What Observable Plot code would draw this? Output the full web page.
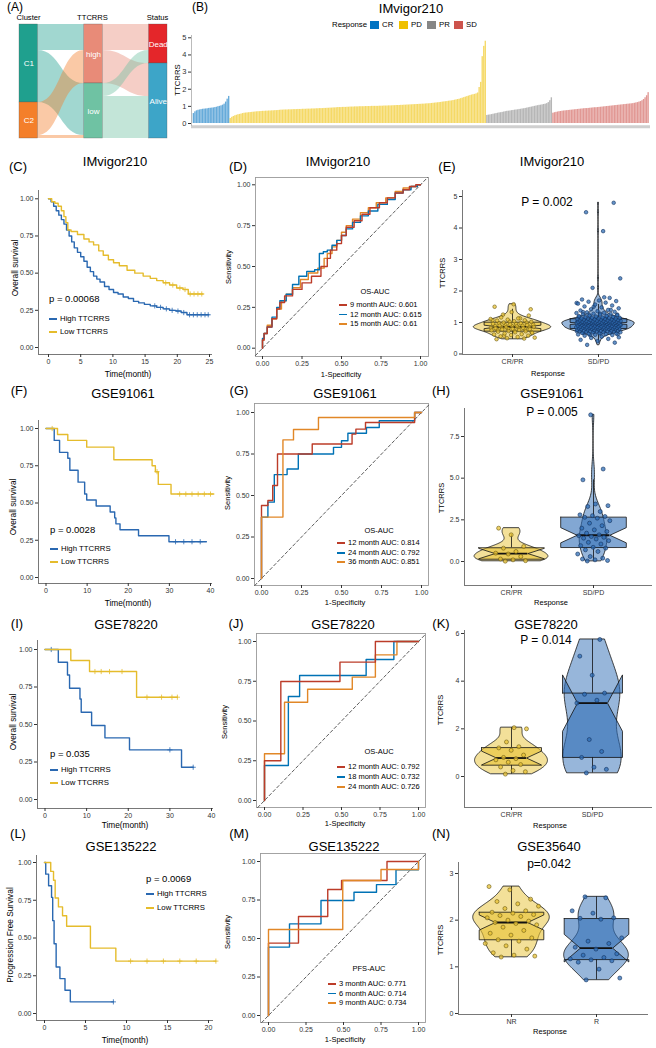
<!DOCTYPE html>
<html><head><meta charset="utf-8">
<script src="https://cdn.jsdelivr.net/npm/d3@7"></script>
<script src="https://cdn.jsdelivr.net/npm/@observablehq/plot@0.6"></script>
<style>
body{margin:0;background:#fff;font-family:"Liberation Sans",Arial,sans-serif;}
#page{position:relative;width:656px;height:1048px;overflow:hidden;background:#fff;}
#page svg{position:absolute;left:0;top:0;}
.t{position:absolute;white-space:nowrap;line-height:1;color:#000;}
.k{position:absolute;}
</style></head><body><div id="page"></div>
<script>
// ---------------- DATA ----------------
// (A) Sankey IMvigor210
const sankeyColumns = ["Cluster", "TTCRRS", "Status"];
const sankeyCol0 = ["C1", "C2"];
const sankeyCol1 = ["high", "low"];
const sankeyCol2 = ["Dead", "Alive"];
const sankeyLinkSource = ["C1", "C1", "C2", "C2", "high", "high", "low", "low"];
const sankeyLinkTarget = ["high", "low", "high", "low", "Dead", "Alive", "Dead", "Alive"];
const sankeyLinkValue = [79, 159, 101, 9, 79, 101, 40, 128];

// (B) IMvigor210 TTCRRS by response (sorted)
const responseGroups = ["CR", "PD", "PR", "SD"];
const CR_vals = [0.58,0.68,0.74,0.77,0.79,0.81,0.83,0.84,0.85,0.86,0.88,0.89,0.90,0.91,0.93,0.95,0.98,1.00,1.03,1.07,1.13,1.25,1.42,1.58];
const PD_vals = [0.29,0.36,0.41,0.45,0.48,0.51,0.53,0.55,0.58,0.60,
0.61,0.62,0.63,0.64,0.65,0.66,0.67,0.68,0.69,0.69,
0.70,0.71,0.71,0.72,0.72,0.73,0.73,0.74,0.74,0.75,
0.75,0.76,0.77,0.78,0.78,0.79,0.79,0.79,0.80,0.80,
0.80,0.81,0.81,0.81,0.82,0.82,0.82,0.83,0.83,0.83,
0.84,0.84,0.84,0.85,0.85,0.85,0.86,0.86,0.87,0.87,
0.87,0.88,0.88,0.89,0.89,0.90,0.90,0.91,0.91,0.92,
0.93,0.93,0.93,0.94,0.94,0.94,0.95,0.95,0.96,0.96,
0.96,0.97,0.97,0.97,0.98,0.98,0.98,0.98,0.99,0.99,
0.99,0.99,1.00,1.00,1.00,1.00,1.00,1.01,1.01,1.01,
1.02,1.02,1.02,1.03,1.03,1.03,1.04,1.04,1.05,1.05,
1.05,1.06,1.06,1.07,1.07,1.08,1.08,1.09,1.09,1.10,
1.10,1.11,1.11,1.12,1.12,1.13,1.13,1.14,1.15,1.15,
1.16,1.17,1.18,1.19,1.20,1.21,1.22,1.23,1.25,1.26,
1.27,1.28,1.30,1.31,1.32,1.34,1.36,1.38,1.40,1.42,
1.45,1.48,1.51,1.54,1.57,1.60,1.63,1.66,1.68,1.70,
1.73,1.78,2.10,2.40,3.90,4.50,4.80];
const PR_vals = [0.47,0.49,0.50,0.52,0.54,0.56,0.58,0.60,0.62,0.63,0.65,0.67,0.69,0.71,0.72,0.73,0.75,0.76,0.78,0.79,0.80,0.82,0.83,0.85,0.86,0.88,0.90,0.92,0.94,0.96,0.98,1.00,1.02,1.04,1.06,1.07,1.09,1.11,1.13,1.16,1.22,1.33,1.50];
const SD_vals = [0.60,0.63,0.65,0.67,0.69,0.70,0.72,0.73,0.74,0.75,0.76,0.77,0.78,0.79,0.80,0.81,0.82,0.83,0.84,0.85,0.86,0.87,0.87,0.88,0.89,0.90,0.91,0.92,0.92,0.93,0.94,0.95,0.96,0.97,0.98,0.99,1.00,1.01,1.02,1.03,1.04,1.05,1.06,1.07,1.08,1.09,1.10,1.11,1.12,1.13,1.14,1.15,1.16,1.18,1.20,1.22,1.25,1.28,1.33,1.40,1.50,1.62,1.80];
const yTicksB = [0, 1, 2, 3, 4, 5];

// (C) IMvigor210 KM
const C_high_t = [0,0.4,0.8,1.2,1.6,2.0,2.4,2.8,3.2,3.6,4.0,4.5,5.0,5.5,6.0,6.5,7.0,7.5,8.0,8.7,9.4,10.1,10.8,11.6,12.4,13.2,14.0,14.9,15.8,16.8,17.8,18.8,19.8,20.6,21.5,24.9];
const C_high_s = [1,0.98,0.95,0.92,0.89,0.86,0.83,0.79,0.75,0.71,0.67,0.64,0.61,0.58,0.54,0.51,0.48,0.46,0.44,0.41,0.39,0.37,0.36,0.34,0.33,0.31,0.30,0.29,0.28,0.27,0.26,0.25,0.245,0.235,0.22,0.22];
const C_high_cens = [16.5,17.4,18.3,19.2,20.1,21.0,21.9,22.5,23.1,23.7,24.3,24.8];
const C_low_t = [0,0.5,1.0,1.5,2.0,2.4,2.7,3.0,3.5,4.5,5.5,6.3,7.0,7.8,8.5,9.3,10.1,11.0,12.2,13.4,14.7,15.8,16.8,17.8,18.8,19.9,20.9,21.7,24.0];
const C_low_s = [1,0.98,0.97,0.95,0.92,0.88,0.84,0.79,0.78,0.76,0.73,0.71,0.69,0.65,0.62,0.59,0.57,0.55,0.52,0.50,0.48,0.465,0.45,0.435,0.42,0.40,0.39,0.36,0.36];
const C_low_cens = [18.2,19.3,20.4,21.2,22.0,22.6,23.2,23.8];

// (D) IMvigor210 ROC
const D_9_fpr = [0,0.01,0.03,0.06,0.09,0.11,0.14,0.19,0.25,0.31,0.37,0.41,0.43,0.47,0.50,0.53,0.58,0.63,0.68,0.74,0.79,0.84,0.89,0.93,0.97,1];
const D_9_tpr = [0,0.05,0.09,0.13,0.18,0.24,0.28,0.32,0.36,0.40,0.44,0.50,0.55,0.60,0.64,0.69,0.74,0.78,0.82,0.86,0.89,0.92,0.95,0.97,0.99,1];
const D_12_fpr = [0,0.01,0.03,0.06,0.09,0.12,0.15,0.19,0.24,0.29,0.35,0.39,0.41,0.44,0.47,0.50,0.53,0.57,0.62,0.67,0.72,0.78,0.84,0.89,0.94,0.98,1];
const D_12_tpr = [0,0.05,0.09,0.14,0.18,0.24,0.29,0.33,0.37,0.42,0.46,0.49,0.55,0.58,0.62,0.66,0.71,0.75,0.79,0.83,0.86,0.89,0.92,0.96,0.98,0.99,1];
const D_15_fpr = [0,0.01,0.03,0.06,0.09,0.11,0.15,0.19,0.23,0.28,0.33,0.36,0.385,0.41,0.44,0.47,0.50,0.53,0.57,0.62,0.67,0.73,0.79,0.84,0.89,0.94,0.98,1];
const D_15_tpr = [0,0.06,0.09,0.13,0.19,0.25,0.29,0.33,0.39,0.44,0.47,0.48,0.58,0.59,0.60,0.63,0.66,0.69,0.73,0.77,0.81,0.84,0.88,0.91,0.95,0.97,0.99,1];

// (E) uses B values: CR/PR vs SD/PD

// (F) GSE91061 KM
const F_high_t = [0,2.0,3.3,5.3,5.8,7.8,9.4,9.9,12.2,15.6,16.7,17.0,18.0,22.5,29.9,39.0];
const F_high_s = [1,0.92,0.84,0.80,0.72,0.64,0.56,0.52,0.48,0.44,0.40,0.36,0.32,0.28,0.24,0.24];
const F_high_cens = [31.5,33.5,35.5,37.5];
const F_low_t = [0,2.8,5.3,9.9,16.5,25.8,26.6,27.3,30.4,40.8];
const F_low_s = [1,0.96,0.92,0.875,0.79,0.75,0.71,0.625,0.56,0.56];
const F_low_cens = [1.5,27.0,32.5,34.0,35.5,37.0,38.5,40.0];

// (G) GSE91061 ROC (vertices, up then right)
const G_12_fpr = [0,0.04,0.07,0.10,0.317,0.566,0.59,0.65,0.957,1];
const G_12_tpr = [0,0.44,0.47,0.56,0.75,0.81,0.87,0.90,0.94,1];
const G_24_fpr = [0,0.04,0.08,0.16,0.23,0.45,0.50,0.54,0.656,0.736,0.957,1];
const G_24_tpr = [0,0.37,0.46,0.626,0.66,0.75,0.79,0.83,0.875,0.91,0.95,1];
const G_36_fpr = [0,0.134,0.20,0.356,0.957,1];
const G_36_tpr = [0,0.37,0.835,0.898,0.97,1];

// (H) GSE91061 TTCRRS
const H_CRPR = [0.02,0.05,0.1,0.15,0.3,0.45,0.5,0.6,0.8,0.9,1.6,2.0];
const H_SDPD = [0.03,0.06,0.1,0.15,0.2,0.3,0.45,0.6,0.7,0.8,0.85,0.95,1.05,1.15,1.25,1.35,1.4,1.45,1.5,1.55,1.6,1.7,1.8,1.9,2.0,2.15,2.3,2.45,2.6,2.65,2.7,2.75,2.8,3.0,3.3,3.35,3.45,4.9,5.55,8.8];

// (I) GSE78220 KM
const I_high_t = [0,3.2,5.4,5.9,8.4,8.7,11.2,14.4,20.3,32.8,35.6];
const I_high_s = [1,0.915,0.83,0.742,0.67,0.582,0.493,0.411,0.331,0.215,0.215];
const I_high_cens = [1.5,30.0,35.6];
const I_low_t = [0,6.2,10.7,22.0,31.8];
const I_low_s = [1,0.927,0.853,0.682,0.682];
const I_low_cens = [12.0,13.5,15.5,18.5,24.5,28.0,30.5,31.8];

// (J) GSE78220 ROC
const J_12_fpr = [0,0.106,0.49,0.72,1];
const J_12_tpr = [0,0.25,0.748,0.87,1];
const J_18_fpr = [0,0.155,0.228,0.66,0.84,1];
const J_18_tpr = [0,0.22,0.654,0.786,0.887,1];
const J_24_fpr = [0,0.13,0.28,0.57,0.72,0.86,1];
const J_24_tpr = [0,0.294,0.618,0.70,0.776,0.916,1];

// (K) GSE78220 TTCRRS
const K_CRPR = [0.1,0.2,0.25,0.4,0.5,0.6,0.7,0.75,0.8,0.9,1.1,1.2,1.25,1.45,2.0,2.05];
const K_SDPD = [0.15,0.3,0.39,0.8,1.05,1.55,3.08,3.2,3.45,3.5,4.25,5.05,5.75];

// (L) GSE135222 PFS
const L_high_t = [0,0.15,0.5,0.86,1.0,1.17,1.42,1.88,2.5,3.15,8.4];
const L_high_s = [1,0.923,0.846,0.769,0.615,0.462,0.308,0.231,0.154,0.077,0.077];
const L_high_cens = [8.4];
const L_low_t = [0,0.76,1.1,1.3,1.7,2.2,2.7,5.6,8.7,20.9];
const L_low_s = [1,0.941,0.882,0.765,0.706,0.647,0.578,0.433,0.347,0.347];
const L_low_cens = [10.5,12.5,14.5,16.5,18.5,20.9];

// (M) GSE135222 ROC
const M_3_fpr = [0,0.20,0.395,0.487,0.79,1];
const M_3_tpr = [0,0.47,0.643,0.818,0.877,1];
const M_6_fpr = [0,0.14,0.35,0.57,0.72,0.85,1,1];
const M_6_tpr = [0,0.444,0.595,0.747,0.80,0.85,0.946,1];
const M_9_fpr = [0,0.495,0.75,1.0,1];
const M_9_tpr = [0,0.558,0.877,0.948,1];

// (N) GSE35640 TTCRRS
const N_NR = [1.21,1.23,1.25,1.3,1.38,1.45,1.5,1.55,1.58,1.62,1.68,1.72,1.78,1.85,1.9,1.93,1.95,1.98,2.0,2.05,2.08,2.1,2.12,2.15,2.17,2.2,2.25,2.3,2.35,2.4,2.45,2.65,2.72];
const N_R = [0.72,0.76,0.95,1.1,1.13,1.15,1.17,1.2,1.25,1.28,1.38,1.42,1.5,1.55,1.62,2.02,2.04,2.05,2.15,2.2,2.48,2.5];

// ---------------- STYLE ----------------
const FONT = "Liberation Sans, Arial, sans-serif";
const JCO = {CR:"#0073C2", PD:"#EFC000", PR:"#868686", SD:"#CD534C"};
const SANKEY_COL = {C1:"#1FA08E", C2:"#F47F2A", high:"#E88B78", low:"#6FC2A3", Dead:"#E4262A", Alive:"#3DA5C8"};
const KM_HIGH = "#2A68B1", KM_LOW = "#E5BC2C";
const ROC_RED = "#BC3C29", ROC_BLUE = "#0072B5", ROC_ORANGE = "#E18727";
const VIO_Y = "#E8C234", VIO_B = "#2F6DB5";
const AXC = "#333";

const page = document.getElementById("page");
function txt(s, x, y, size, o = {}) {
  const d = document.createElement("div");
  d.className = "t"; d.textContent = s;
  d.style.left = x + "px"; d.style.top = y + "px"; d.style.fontSize = size + "px";
  const a = o.anchor || "middle";
  const tx = a === "start" ? "0" : a === "end" ? "-100%" : "-50%";
  d.style.transform = `translate(${tx},-50%)` + (o.rotate ? ` rotate(${o.rotate}deg)` : "");
  if (o.color) d.style.color = o.color;
  page.appendChild(d);
}
function hline(x1, x2, y, color, w = 1.5) {
  const d = document.createElement("div"); d.className = "k";
  d.style.left = x1 + "px"; d.style.top = (y - w / 2) + "px";
  d.style.width = (x2 - x1) + "px"; d.style.height = w + "px"; d.style.background = color;
  page.appendChild(d);
}
function box(x, y, w, h, color) {
  const d = document.createElement("div"); d.className = "k";
  d.style.left = x + "px"; d.style.top = y + "px"; d.style.width = w + "px"; d.style.height = h + "px"; d.style.background = color;
  page.appendChild(d);
}
function sc(d0, d1, p0, p1) { return {domain: [d0, d1], range: [p0, p1]}; }
function inv(s, px) { return s.domain[0] + (px - s.range[0]) * (s.domain[1] - s.domain[0]) / (s.range[1] - s.range[0]); }
function addPlot(frame, opts) {
  const [l, t, r, b] = frame;
  const svg = Plot.plot({
    width: 656, height: 1048,
    marginLeft: l, marginTop: t, marginRight: 656 - r, marginBottom: 1048 - b,
    style: {background: "transparent", fontFamily: FONT, overflow: "visible"},
    ...opts
  });
  page.appendChild(svg);
}
const axOpt = {tickSize: 3, tickPadding: 2, fontSize: 7, label: null, color: AXC};
function stepAt(ts, ss, t) { let v = ss[0]; for (let i = 0; i < ts.length; i++) if (ts[i] <= t) v = ss[i]; return v; }

// ---------------- (A) Sankey ----------------
(function () {
  const cols = [sankeyCol0, sankeyCol1, sankeyCol2];
  const colOf = {}, idxOf = {};
  cols.forEach((c, ci) => c.forEach((n, ni) => { colOf[n] = ci; idxOf[n] = ni; }));
  const links = sankeyLinkSource.map((s, i) => ({s, t: sankeyLinkTarget[i], v: sankeyLinkValue[i], id: i}));
  const nodeVal = {};
  cols.flat().forEach(n => {
    const out = d3.sum(links.filter(l => l.s === n), l => l.v);
    const inn = d3.sum(links.filter(l => l.t === n), l => l.v);
    nodeVal[n] = Math.max(out, inn);
  });
  const total = d3.sum(sankeyCol0, n => nodeVal[n]);
  const nodeY0 = {};
  cols.forEach(c => { let y = 0; c.forEach(n => { nodeY0[n] = y; y += nodeVal[n]; }); });
  const outOff = {...nodeY0}, inOff = {...nodeY0};
  links.slice().sort((a, b) => colOf[a.s] - colOf[b.s] || idxOf[a.s] - idxOf[b.s] || idxOf[a.t] - idxOf[b.t])
    .forEach(l => { l.sy = outOff[l.s]; outOff[l.s] += l.v; });
  links.slice().sort((a, b) => colOf[a.t] - colOf[b.t] || idxOf[a.t] - idxOf[b.t] || idxOf[a.s] - idxOf[b.s])
    .forEach(l => { l.ty = inOff[l.t]; inOff[l.t] += l.v; });
  const NW = 0.2857;
  const nodes = cols.flat().map(n => ({n, c: colOf[n], y0: nodeY0[n], y1: nodeY0[n] + nodeVal[n], color: SANKEY_COL[n]}));
  const marks = [];
  links.forEach(l => {
    const pts = [{x: colOf[l.s] + NW, y1: l.sy, y2: l.sy + l.v}, {x: colOf[l.t], y1: l.ty, y2: l.ty + l.v}];
    marks.push(Plot.areaY(pts, {x: "x", y1: "y1", y2: "y2", curve: "bump-x", fill: SANKEY_COL[l.s], fillOpacity: 0.42}));
  });
  marks.push(Plot.rect(nodes, {x1: "c", x2: d => d.c + NW, y1: "y0", y2: "y1", fill: "color", stroke: "#555", strokeWidth: 0.5, strokeOpacity: 0.6}));
  marks.push(Plot.text(nodes, {x: d => d.c + NW / 2, y: d => (d.y0 + d.y1) / 2, text: "n", fill: "white", fontSize: 8}));
  addPlot([19, 24, 167, 138], {
    x: {domain: [0, 2], range: [19, 148.5], axis: null},
    y: {domain: [0, total], range: [24, 138], axis: null},
    color: {type: "identity"},
    marks
  });
  txt("(A)", 15, 6.5, 12);
  [28.5, 92.5, 157.5].forEach((x, i) => txt(sankeyColumns[i], x, 18, 7.6));
})();

// ---------------- (B) Bars ----------------
(function () {
  const groups = {CR: CR_vals, PD: PD_vals, PR: PR_vals, SD: SD_vals};
  const bars = [];
  responseGroups.forEach(g => groups[g].forEach(v => bars.push({i: bars.length, v, g})));
  const ys = sc(0, 5, 123, 37.3);
  addPlot([191, 35, 650, 128], {
    x: {type: "band", domain: bars.map(d => d.i), range: [192.5, 649], padding: 0.12, axis: null},
    y: ys,
    color: {type: "identity"},
    marks: [
      Plot.ruleY([inv(ys, 126.3)], {stroke: "#cfcfcf", strokeWidth: 3}),
      Plot.barY(bars, {x: "i", y: "v", fill: d => JCO[d.g], fillOpacity: 0.6}),
      Plot.axisY({...axOpt, ticks: yTicksB, tickFormat: d3.format("d"), fontSize: 7.5})
    ]
  });
  box(190.5, 35, 0.8, 91, "#bbb");
  txt("(B)", 200, 7, 12);
  txt("IMvigor210", 411, 8, 13);
  txt("TTCRRS", 178, 80, 7.8, {rotate: -90});
  txt("Response", 332, 25, 7.8, {anchor: "start"});
  const sw = [370, 399, 427, 454];
  responseGroups.forEach((g, i) => { box(sw[i], 21, 9, 8, JCO[g]); txt(g, sw[i] + 12, 25, 7.8, {anchor: "start"}); });
})();

// ---------------- KM panels ----------------
function kmPanel(frame, xs, ys, xticks, curves) {
  const [l, t, r, b] = frame;
  const marks = [
    Plot.ruleX([inv(xs, l)], {stroke: "#555", strokeWidth: 0.8}),
    Plot.ruleY([inv(ys, b)], {stroke: "#555", strokeWidth: 0.8}),
    Plot.axisX({...axOpt, ticks: xticks}),
    Plot.axisY({...axOpt, ticks: [0, 0.25, 0.5, 0.75, 1], tickFormat: d3.format(".2f")})
  ];
  curves.forEach(c => {
    const pts = c.t.map((tt, i) => ({t: tt, s: c.s[i]}));
    marks.push(Plot.line(pts, {x: "t", y: "s", curve: "step-after", stroke: c.color, strokeWidth: 1.4}));
    marks.push(Plot.dot(c.cens.map(ct => ({t: ct, s: stepAt(c.t, c.s, ct)})), {x: "t", y: "s", symbol: "plus", r: 1.8, stroke: c.color, strokeWidth: 0.8}));
  });
  addPlot(frame, {x: xs, y: ys, marks});
}
function kmLegend(x, yHigh, yLow) {
  hline(x, x + 8, yHigh, KM_HIGH); txt("High TTCRRS", x + 11, yHigh, 7.8, {anchor: "start"});
  hline(x, x + 8, yLow, KM_LOW); txt("Low TTCRRS", x + 11, yLow, 7.8, {anchor: "start"});
}
// C
kmPanel([38, 190, 212, 354], sc(0, 25, 48, 209), sc(0, 1, 347, 198.3), [0, 5, 10, 15, 20, 25], [
  {t: C_high_t, s: C_high_s, cens: C_high_cens, color: KM_HIGH},
  {t: C_low_t, s: C_low_s, cens: C_low_cens, color: KM_LOW}
]);
txt("(C)", 18, 166, 13); txt("IMvigor210", 115, 161, 13);
txt("Overall survival", 15, 268, 8.3, {rotate: -90}); txt("Time(month)", 128, 374, 8.3);
txt("p = 0.00068", 49, 299, 9.5, {anchor: "start"}); kmLegend(49, 319, 332);
// F
kmPanel([38, 420, 212, 583], sc(0, 40, 45.5, 210), sc(0, 1, 577, 428), [0, 10, 20, 30, 40], [
  {t: F_high_t, s: F_high_s, cens: F_high_cens, color: KM_HIGH},
  {t: F_low_t, s: F_low_s, cens: F_low_cens, color: KM_LOW}
]);
txt("(F)", 19, 390, 13); txt("GSE91061", 123, 393, 13);
txt("Overall survival", 13, 507, 8.3, {rotate: -90}); txt("Time(month)", 128, 603, 8.3);
txt("p = 0.0028", 50, 530, 9.5, {anchor: "start"}); kmLegend(50, 549, 562);
// I
kmPanel([37, 640, 213, 808], sc(0, 40, 44.5, 211), sc(0, 1, 799, 649), [0, 10, 20, 30, 40], [
  {t: I_high_t, s: I_high_s, cens: I_high_cens, color: KM_HIGH},
  {t: I_low_t, s: I_low_s, cens: I_low_cens, color: KM_LOW}
]);
txt("(I)", 17, 623, 13); txt("GSE78220", 126, 624, 13);
txt("Overall survival", 13, 722, 8.3, {rotate: -90}); txt("Time(month)", 125, 825, 8.3);
txt("p = 0.035", 50, 754, 9.5, {anchor: "start"}); kmLegend(50, 770, 783);
// L
kmPanel([36, 855, 213, 1020], sc(0, 20, 44, 208), sc(0, 1, 1013, 862), [0, 5, 10, 15, 20], [
  {t: L_high_t, s: L_high_s, cens: L_high_cens, color: KM_HIGH},
  {t: L_low_t, s: L_low_s, cens: L_low_cens, color: KM_LOW}
]);
txt("(L)", 18, 833, 13); txt("GSE135222", 121, 846, 13);
txt("Progression Free Survival", 10, 935, 8.3, {rotate: -90}); txt("Time(month)", 125, 1040, 8.3);
txt("p = 0.0069", 146, 879, 9.5, {anchor: "start"}); kmLegend(146, 894, 908);

// ---------------- ROC panels ----------------
function rocPanel(frame, xs, ys, curves) {
  const [l, t, r, b] = frame;
  const lo = Math.max(inv(xs, l), inv(ys, b)), hi = Math.min(inv(xs, r), inv(ys, t));
  const marks = [
    Plot.frame({stroke: "#9a9a9a", strokeWidth: 0.9}),
    Plot.axisX({...axOpt, ticks: [0, 0.25, 0.5, 0.75, 1], tickFormat: d3.format(".2f")}),
    Plot.axisY({...axOpt, ticks: [0, 0.25, 0.5, 0.75, 1], tickFormat: d3.format(".2f")}),
    Plot.line([[lo, lo], [hi, hi]], {x: d => d[0], y: d => d[1], stroke: "#333", strokeWidth: 0.8, strokeDasharray: "3,2.5"})
  ];
  curves.forEach(c => {
    const pts = c.f.map((f, i) => ({f, s: c.s[i]}));
    marks.push(Plot.line(pts, {x: "f", y: "s", curve: "step-before", stroke: c.color, strokeWidth: 1.4}));
  });
  addPlot(frame, {x: xs, y: ys, marks});
}
function rocLegend(title, cx, ty, rows, keyX, labels) {
  txt(title, cx, ty, 7.5);
  const colors = [ROC_RED, ROC_BLUE, ROC_ORANGE];
  labels.forEach((lab, i) => { hline(keyX, keyX + 8, rows[i], colors[i]); txt(lab, keyX + 11, rows[i], 7.5, {anchor: "start"}); });
}
// D
rocPanel([255, 177, 428, 356], sc(0, 1, 262, 420), sc(0, 1, 347.7, 184.3), [
  {f: D_12_fpr, s: D_12_tpr, color: ROC_ORANGE},
  {f: D_15_fpr, s: D_15_tpr, color: ROC_BLUE},
  {f: D_9_fpr, s: D_9_tpr, color: ROC_RED}
]);
txt("(D)", 238, 166, 13); txt("IMvigor210", 338, 161, 13);
txt("Sensitivity", 229, 267, 7.5, {rotate: -90}); txt("1-Specificity", 341, 375, 7.5);
rocLegend("OS-AUC", 375, 292, [305, 314.5, 324], 339, ["9 month AUC: 0.601", "12 month AUC: 0.615", "15 month AUC: 0.61"]);
// G
rocPanel([254, 403, 428, 585], sc(0, 1, 261, 421), sc(0, 1, 578, 412), [
  {f: G_24_fpr, s: G_24_tpr, color: ROC_BLUE},
  {f: G_12_fpr, s: G_12_tpr, color: ROC_RED},
  {f: G_36_fpr, s: G_36_tpr, color: ROC_ORANGE}
]);
txt("(G)", 239, 390, 13); txt("GSE91061", 345, 393, 13);
txt("Sensitivity", 228, 493, 7.5, {rotate: -90}); txt("1-Specificity", 345, 603, 7.5);
rocLegend("OS-AUC", 379, 531, [543, 553, 562], 337, ["12 month AUC: 0.814", "24 month AUC: 0.792", "36 month AUC: 0.851"]);
// J
rocPanel([256, 633, 425, 807], sc(0, 1, 264, 418), sc(0, 1, 800, 641), [
  {f: J_18_fpr, s: J_18_tpr, color: ROC_BLUE},
  {f: J_24_fpr, s: J_24_tpr, color: ROC_ORANGE},
  {f: J_12_fpr, s: J_12_tpr, color: ROC_RED}
]);
txt("(J)", 236, 623, 13); txt("GSE78220", 343, 624, 13);
txt("Sensitivity", 225, 722, 7.5, {rotate: -90}); txt("1-Specificity", 345, 824, 7.5);
rocLegend("OS-AUC", 379, 752, [767, 777, 787], 337, ["12 month AUC: 0.792", "18 month AUC: 0.732", "24 month AUC: 0.726"]);
// M
rocPanel([260, 853, 425, 1022], sc(0, 1, 268, 418), sc(0, 1, 1015, 861), [
  {f: M_6_fpr, s: M_6_tpr, color: ROC_BLUE},
  {f: M_3_fpr, s: M_3_tpr, color: ROC_RED},
  {f: M_9_fpr, s: M_9_tpr, color: ROC_ORANGE}
]);
txt("(M)", 239, 833, 13); txt("GSE135222", 344, 846, 13);
txt("Sensitivity", 228, 932, 7.5, {rotate: -90}); txt("1-Specificity", 345, 1040, 7.5);
rocLegend("PFS-AUC", 369, 969, [984, 993.5, 1003], 328, ["3 month AUC: 0.771", "6 month AUC: 0.714", "9 month AUC: 0.734"]);

// ---------------- Violin panels ----------------
function violinShape(vals, n = 90) {
  const v = vals.slice().sort(d3.ascending);
  const sd = d3.deviation(v), iqr = d3.quantile(v, 0.75) - d3.quantile(v, 0.25);
  let lo = Math.min(sd, iqr / 1.34); if (!(lo > 0)) lo = sd || 1;
  const bw = 0.9 * lo * Math.pow(v.length, -0.2);
  const mn = v[0], mx = v[v.length - 1];
  return d3.range(n + 1).map(k => {
    const y = mn + (mx - mn) * k / n;
    const d = d3.mean(v, x => Math.exp(-0.5 * ((y - x) / bw) ** 2)) / (bw * Math.sqrt(2 * Math.PI));
    return {y, d};
  });
}
function boxStats(vals, pos, hw) {
  const v = vals.slice().sort(d3.ascending);
  const q1 = d3.quantile(v, 0.25), med = d3.quantile(v, 0.5), q3 = d3.quantile(v, 0.75), iqr = q3 - q1;
  const nh = 1.58 * iqr / Math.sqrt(v.length);
  const xl = pos - hw, xr = pos + hw, il = pos - hw * 0.5, ir = pos + hw * 0.5;
  const poly = [[xl, q3], [xl, med + nh], [il, med], [xl, med - nh], [xl, q1], [xr, q1], [xr, med - nh], [ir, med], [xr, med + nh], [xr, q3], [xl, q3]];
  const lo = d3.min(v.filter(x => x >= q1 - 1.5 * iqr)), hi = d3.max(v.filter(x => x <= q3 + 1.5 * iqr));
  return {poly, med, il, ir, q1, q3, lo, hi, pos};
}
function violinPanel(frame, xs, ys, yticks, yfmt, groups, names, o) {
  const [l, t, r, b] = frame;
  const shapes = groups.map(g => violinShape(g));
  const globalMax = d3.max(shapes, s => d3.max(s, p => p.d));
  const cols = [VIO_Y, VIO_B];
  const ptStroke = ["#6b5a12", "#14335e"];
  const vw = o.vw || [0.45, 0.45];
  const marks = [
    Plot.ruleX([inv(xs, l)], {stroke: "#555", strokeWidth: 0.8}),
    Plot.ruleY([inv(ys, b)], {stroke: "#555", strokeWidth: 0.8}),
    Plot.axisX({...axOpt, ticks: [1, 2], tickFormat: d => names[d - 1]}),
    Plot.axisY({...axOpt, ticks: yticks, tickFormat: yfmt})
  ];
  groups.forEach((g, gi) => {
    const pos = gi + 1;
    const maxD = o.scaleWidth ? d3.max(shapes[gi], p => p.d) : globalMax;
    const sh = shapes[gi].map(p => ({y: p.y, x1: pos - vw[gi] * p.d / maxD, x2: pos + vw[gi] * p.d / maxD}));
    marks.push(Plot.areaX(sh, {y: "y", x1: "x1", x2: "x2", fill: cols[gi], fillOpacity: 0.5, stroke: "#111", strokeWidth: 0.8}));
    const bx = boxStats(g, pos, o.hw);
    marks.push(Plot.ruleX([bx], {x: "pos", y1: "q3", y2: "hi", stroke: "#111", strokeWidth: 0.8}));
    marks.push(Plot.ruleX([bx], {x: "pos", y1: "lo", y2: "q1", stroke: "#111", strokeWidth: 0.8}));
    marks.push(Plot.line(bx.poly, {x: d => d[0], y: d => d[1], fill: cols[gi], fillOpacity: 0.6, stroke: "#111", strokeWidth: 0.8}));
    marks.push(Plot.ruleY([bx], {y: "med", x1: "il", x2: "ir", stroke: "#111", strokeWidth: 1.8}));
    const pts = g.map((v, i) => ({x: pos + o.jw * ((((i * 0.6180339887) + 0.31) % 1) * 2 - 1), y: v}));
    marks.push(Plot.dot(pts, {x: "x", y: "y", r: o.r, fill: cols[gi], fillOpacity: 0.75, stroke: ptStroke[gi], strokeWidth: 0.6}));
  });
  addPlot(frame, {x: xs, y: ys, marks});
}
// E
violinPanel([462, 190, 652, 354], sc(1, 2, 512, 598), sc(0, 5, 353.5, 196), [0, 1, 2, 3, 4, 5], d3.format("d"),
  [CR_vals.concat(PR_vals), SD_vals.concat(PD_vals)], ["CR/PR", "SD/PD"], {hw: 0.33, jw: 0.26, r: 1.8});
txt("(E)", 447, 166, 13); txt("IMvigor210", 552, 161, 13); txt("P = 0.002", 547, 202, 12);
txt("TTCRRS", 443, 273, 7.5, {rotate: -90}); txt("Response", 548, 374, 7.5);
// H
violinPanel([464, 408, 652, 585], sc(1, 2, 511, 593), sc(0, 7.5, 561, 436), [0, 2.5, 5, 7.5], d3.format(".1f"),
  [H_CRPR, H_SDPD], ["CR/PR", "SD/PD"], {hw: 0.4, jw: 0.2, r: 2});
txt("(H)", 441, 390, 13); txt("GSE91061", 552, 393, 13); txt("P = 0.005", 552, 412, 12);
txt("TTCRRS", 442, 498, 7.5, {rotate: -90}); txt("Response", 551, 603, 7.5);
// K
violinPanel([464, 630, 652, 807], sc(1, 2, 511, 592), sc(0, 6, 776, 633), [0, 2, 4, 6], d3.format("d"),
  [K_CRPR, K_SDPD], ["CR/PR", "SD/PD"], {hw: 0.37, jw: 0.2, r: 2, scaleWidth: true, vw: [0.45, 0.36]});
txt("(K)", 441, 623, 13); txt("GSE78220", 546, 624, 13); txt("P = 0.014", 546, 640, 12);
txt("TTCRRS", 441, 710, 7.5, {rotate: -90}); txt("Response", 550, 826, 7.5);
// N
violinPanel([458, 862, 648, 1014], sc(1, 2, 511, 596), sc(0, 3, 1013, 873), [0, 1, 2, 3], d3.format("d"),
  [N_NR, N_R], ["NR", "R"], {hw: 0.38, jw: 0.32, r: 2});
txt("(N)", 441, 833, 13); txt("GSE35640", 549, 846, 13); txt("p=0.042", 549, 864, 12);
txt("TTCRRS", 441, 940, 7.5, {rotate: -90}); txt("Response", 550, 1032, 7.5);
</script>
</body></html>
